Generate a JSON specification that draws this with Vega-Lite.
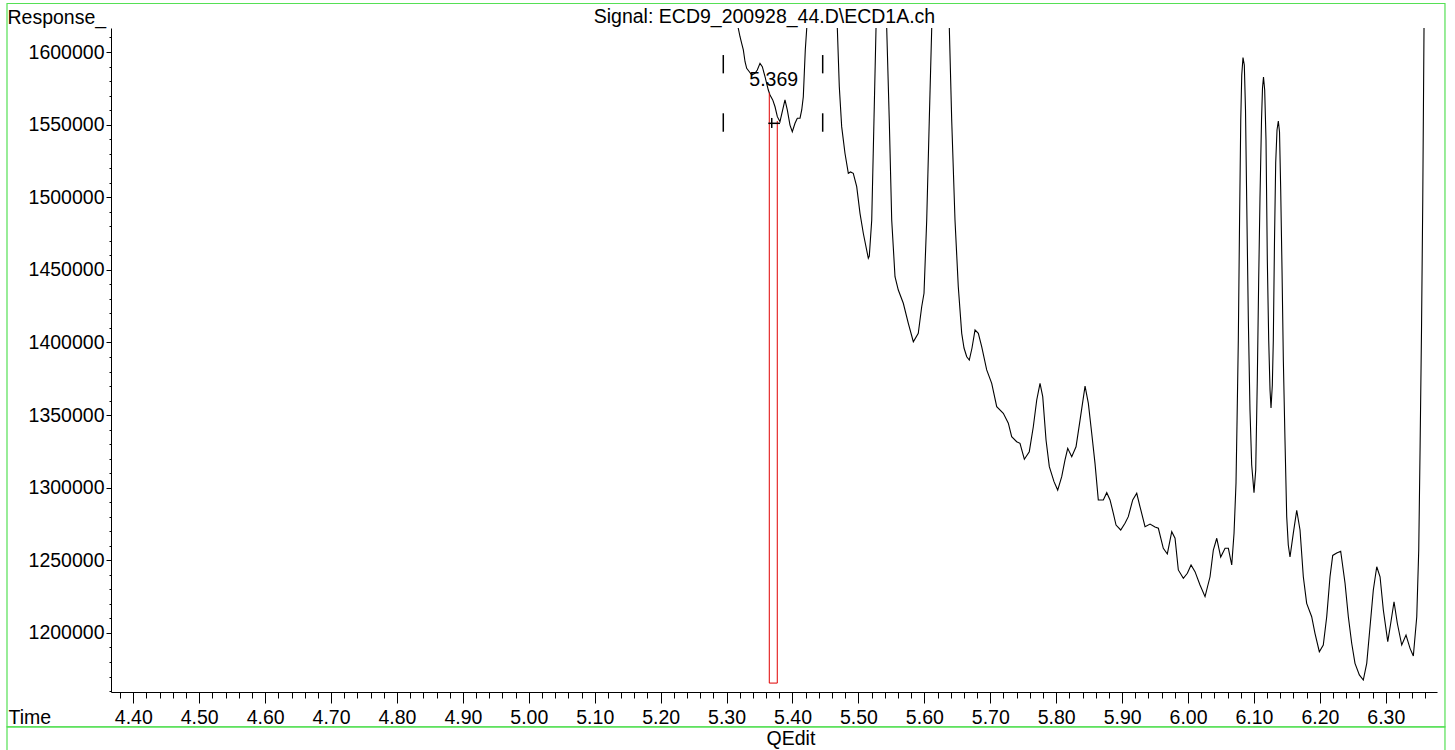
{
  "$schema": "https://vega.github.io/schema/vega-lite/v6.json",
  "width": 1326,
  "height": 664,
  "autosize": {"type": "none"},
  "padding": {"left": 111, "top": 28, "right": 18, "bottom": 58},
  "background": "white",
  "config": {
    "view": {"stroke": null},
    "font": "Liberation Sans",
    "text": {"font": "Liberation Sans", "fontSize": 19.5, "color": "black"}
  },
  "datasets": {
    "signal": [
      {"t": 5.2597, "r": 1700000},
      {"t": 5.3178, "r": 1616300},
      {"t": 5.3204, "r": 1610500},
      {"t": 5.3229, "r": 1606000},
      {"t": 5.3254, "r": 1601400},
      {"t": 5.3280, "r": 1593300},
      {"t": 5.3305, "r": 1588800},
      {"t": 5.3345, "r": 1586400},
      {"t": 5.3381, "r": 1584200},
      {"t": 5.3431, "r": 1585300},
      {"t": 5.3466, "r": 1587600},
      {"t": 5.3507, "r": 1592200},
      {"t": 5.3542, "r": 1589900},
      {"t": 5.3583, "r": 1583000},
      {"t": 5.3633, "r": 1573800},
      {"t": 5.3659, "r": 1570400},
      {"t": 5.3700, "r": 1567000},
      {"t": 5.3735, "r": 1562300},
      {"t": 5.3770, "r": 1555500},
      {"t": 5.3810, "r": 1552000},
      {"t": 5.3851, "r": 1560100},
      {"t": 5.3886, "r": 1567000},
      {"t": 5.3921, "r": 1560100},
      {"t": 5.3962, "r": 1549700},
      {"t": 5.3997, "r": 1545100},
      {"t": 5.4038, "r": 1550900},
      {"t": 5.4073, "r": 1554400},
      {"t": 5.4114, "r": 1554400},
      {"t": 5.4140, "r": 1560100},
      {"t": 5.4164, "r": 1569200},
      {"t": 5.4179, "r": 1585300},
      {"t": 5.4194, "r": 1601400},
      {"t": 5.4216, "r": 1616300},
      {"t": 5.4448, "r": 2000000},
      {"t": 5.4680, "r": 1616500},
      {"t": 5.4710, "r": 1576100},
      {"t": 5.4746, "r": 1548600},
      {"t": 5.4796, "r": 1530300},
      {"t": 5.4847, "r": 1516500},
      {"t": 5.4880, "r": 1517400},
      {"t": 5.4922, "r": 1516500},
      {"t": 5.4974, "r": 1507300},
      {"t": 5.5024, "r": 1488900},
      {"t": 5.5074, "r": 1475200},
      {"t": 5.5150, "r": 1458000},
      {"t": 5.5165, "r": 1459500},
      {"t": 5.5202, "r": 1484300},
      {"t": 5.5236, "r": 1553200},
      {"t": 5.5267, "r": 1616500},
      {"t": 5.5343, "r": 2300000},
      {"t": 5.5429, "r": 1616500},
      {"t": 5.5468, "r": 1553200},
      {"t": 5.5505, "r": 1484300},
      {"t": 5.5555, "r": 1445300},
      {"t": 5.5605, "r": 1436100},
      {"t": 5.5681, "r": 1427000},
      {"t": 5.5757, "r": 1413200},
      {"t": 5.5833, "r": 1400500},
      {"t": 5.5908, "r": 1406300},
      {"t": 5.5960, "r": 1424600},
      {"t": 5.5995, "r": 1433900},
      {"t": 5.6036, "r": 1484300},
      {"t": 5.6075, "r": 1553200},
      {"t": 5.6112, "r": 1616500},
      {"t": 5.6238, "r": 2300000},
      {"t": 5.6379, "r": 1616500},
      {"t": 5.6415, "r": 1553200},
      {"t": 5.6465, "r": 1484300},
      {"t": 5.6515, "r": 1438400},
      {"t": 5.6567, "r": 1406300},
      {"t": 5.6602, "r": 1396200},
      {"t": 5.6643, "r": 1390200},
      {"t": 5.6682, "r": 1387900},
      {"t": 5.6723, "r": 1396200},
      {"t": 5.6769, "r": 1408600},
      {"t": 5.6819, "r": 1406300},
      {"t": 5.6870, "r": 1397100},
      {"t": 5.6946, "r": 1381100},
      {"t": 5.7022, "r": 1371900},
      {"t": 5.7098, "r": 1355800},
      {"t": 5.7198, "r": 1351200},
      {"t": 5.7274, "r": 1344400},
      {"t": 5.7325, "r": 1335100},
      {"t": 5.7401, "r": 1331700},
      {"t": 5.7451, "r": 1330600},
      {"t": 5.7517, "r": 1319600},
      {"t": 5.7592, "r": 1324800},
      {"t": 5.7653, "r": 1342000},
      {"t": 5.7705, "r": 1360400},
      {"t": 5.7755, "r": 1371900},
      {"t": 5.7796, "r": 1362700},
      {"t": 5.7846, "r": 1332900},
      {"t": 5.7896, "r": 1314500},
      {"t": 5.7967, "r": 1304200},
      {"t": 5.8023, "r": 1298400},
      {"t": 5.8084, "r": 1307600},
      {"t": 5.8134, "r": 1319100},
      {"t": 5.8175, "r": 1327100},
      {"t": 5.8236, "r": 1321400},
      {"t": 5.8301, "r": 1328200},
      {"t": 5.8362, "r": 1346600},
      {"t": 5.8438, "r": 1370000},
      {"t": 5.8488, "r": 1358100},
      {"t": 5.8539, "r": 1337500},
      {"t": 5.8589, "r": 1316800},
      {"t": 5.8639, "r": 1291600},
      {"t": 5.8715, "r": 1291600},
      {"t": 5.8767, "r": 1296600},
      {"t": 5.8817, "r": 1291600},
      {"t": 5.8867, "r": 1282400},
      {"t": 5.8908, "r": 1274300},
      {"t": 5.8979, "r": 1270900},
      {"t": 5.9044, "r": 1275500},
      {"t": 5.9094, "r": 1280100},
      {"t": 5.9161, "r": 1291600},
      {"t": 5.9222, "r": 1296200},
      {"t": 5.9272, "r": 1286900},
      {"t": 5.9348, "r": 1273200},
      {"t": 5.9424, "r": 1275000},
      {"t": 5.9499, "r": 1273000},
      {"t": 5.9550, "r": 1272100},
      {"t": 5.9625, "r": 1258300},
      {"t": 5.9686, "r": 1254400},
      {"t": 5.9753, "r": 1269700},
      {"t": 5.9803, "r": 1265200},
      {"t": 5.9853, "r": 1243400},
      {"t": 5.9929, "r": 1237600},
      {"t": 5.9990, "r": 1241100},
      {"t": 6.0046, "r": 1246800},
      {"t": 6.0106, "r": 1242200},
      {"t": 6.0182, "r": 1233000},
      {"t": 6.0258, "r": 1225000},
      {"t": 6.0334, "r": 1238700},
      {"t": 6.0384, "r": 1257100},
      {"t": 6.0436, "r": 1265200},
      {"t": 6.0496, "r": 1252300},
      {"t": 6.0562, "r": 1258300},
      {"t": 6.0612, "r": 1258300},
      {"t": 6.0663, "r": 1246800},
      {"t": 6.0698, "r": 1268600},
      {"t": 6.0728, "r": 1303300},
      {"t": 6.0744, "r": 1346600},
      {"t": 6.0763, "r": 1401700},
      {"t": 6.0782, "r": 1484300},
      {"t": 6.0800, "r": 1553200},
      {"t": 6.0815, "r": 1584200},
      {"t": 6.0834, "r": 1596200},
      {"t": 6.0854, "r": 1591000},
      {"t": 6.0872, "r": 1560100},
      {"t": 6.0890, "r": 1498100},
      {"t": 6.0915, "r": 1415500},
      {"t": 6.0940, "r": 1353500},
      {"t": 6.0966, "r": 1315700},
      {"t": 6.1001, "r": 1296600},
      {"t": 6.1027, "r": 1312200},
      {"t": 6.1051, "r": 1374200},
      {"t": 6.1072, "r": 1443000},
      {"t": 6.1092, "r": 1500400},
      {"t": 6.1115, "r": 1553200},
      {"t": 6.1130, "r": 1575200},
      {"t": 6.1145, "r": 1582800},
      {"t": 6.1163, "r": 1573800},
      {"t": 6.1183, "r": 1539400},
      {"t": 6.1203, "r": 1456800},
      {"t": 6.1224, "r": 1401700},
      {"t": 6.1244, "r": 1367300},
      {"t": 6.1259, "r": 1354900},
      {"t": 6.1279, "r": 1370700},
      {"t": 6.1294, "r": 1401700},
      {"t": 6.1312, "r": 1470600},
      {"t": 6.1330, "r": 1523600},
      {"t": 6.1350, "r": 1546300},
      {"t": 6.1370, "r": 1552500},
      {"t": 6.1388, "r": 1544900},
      {"t": 6.1406, "r": 1505000},
      {"t": 6.1426, "r": 1449900},
      {"t": 6.1446, "r": 1387900},
      {"t": 6.1471, "r": 1332900},
      {"t": 6.1497, "r": 1280100},
      {"t": 6.1521, "r": 1260600},
      {"t": 6.1547, "r": 1252300},
      {"t": 6.1597, "r": 1268600},
      {"t": 6.1649, "r": 1284500},
      {"t": 6.1699, "r": 1270900},
      {"t": 6.1749, "r": 1238700},
      {"t": 6.1800, "r": 1220400},
      {"t": 6.1876, "r": 1211200},
      {"t": 6.1926, "r": 1199800},
      {"t": 6.1992, "r": 1187100},
      {"t": 6.2052, "r": 1191700},
      {"t": 6.2104, "r": 1211200},
      {"t": 6.2154, "r": 1238700},
      {"t": 6.2195, "r": 1253400},
      {"t": 6.2256, "r": 1255000},
      {"t": 6.2316, "r": 1256300},
      {"t": 6.2382, "r": 1234200},
      {"t": 6.2432, "r": 1211200},
      {"t": 6.2483, "r": 1192900},
      {"t": 6.2533, "r": 1179100},
      {"t": 6.2599, "r": 1171100},
      {"t": 6.2659, "r": 1167600},
      {"t": 6.2711, "r": 1179100},
      {"t": 6.2761, "r": 1204300},
      {"t": 6.2811, "r": 1229600},
      {"t": 6.2863, "r": 1245600},
      {"t": 6.2913, "r": 1238700},
      {"t": 6.2963, "r": 1215800},
      {"t": 6.3030, "r": 1194000},
      {"t": 6.3075, "r": 1206700},
      {"t": 6.3125, "r": 1221500},
      {"t": 6.3175, "r": 1206700},
      {"t": 6.3242, "r": 1191700},
      {"t": 6.3307, "r": 1198600},
      {"t": 6.3368, "r": 1189400},
      {"t": 6.3418, "r": 1184100},
      {"t": 6.3470, "r": 1211200},
      {"t": 6.3500, "r": 1257100},
      {"t": 6.3520, "r": 1326000},
      {"t": 6.3542, "r": 1408600},
      {"t": 6.3561, "r": 1498100},
      {"t": 6.3580, "r": 1616500},
      {"t": 6.3671, "r": 1900000}
    ],
    "windowMarks": [
      {"t": 5.2950, "t2": 5.2950, "r": 1597900, "r2": 1585300},
      {"t": 5.2950, "t2": 5.2950, "r": 1557800, "r2": 1545100},
      {"t": 5.4458, "t2": 5.4458, "r": 1597900, "r2": 1585300},
      {"t": 5.4458, "t2": 5.4458, "r": 1557800, "r2": 1545100},
      {"t": 5.3685, "t2": 5.3685, "r": 1554600, "r2": 1547700},
      {"t": 5.3633, "t2": 5.3810, "r": 1550900, "r2": 1550900}
    ],
    "peakArea": [
      {"t": 5.3648, "t2": 5.3648, "r": 1571800, "r2": 1165500},
      {"t": 5.3769, "t2": 5.3769, "r": 1552500, "r2": 1165500},
      {"t": 5.3648, "t2": 5.3769, "r": 1165500, "r2": 1165500}
    ],
    "panels": [
      {"t": 4.2084, "t2": 6.3898, "r": 1633400, "r2": 1135300},
      {"t": 4.2084, "t2": 6.3898, "r": 1135300, "r2": 1118000}
    ],
    "peakLabels": [
      {"t": 5.3345, "r": 1576600, "label": "5.369"}
    ]
  },
  "layer": [
    {
      "data": {"name": "signal"},
      "mark": {"type": "line", "clip": true, "color": "black", "strokeWidth": 1.1, "interpolate": "linear"},
      "encoding": {
        "x": {
          "field": "t",
          "type": "quantitative",
          "scale": {"domain": [4.366172, 6.3777], "nice": false, "zero": false},
          "axis": {
            "values": [4.38,4.4,4.42,4.44,4.46,4.48,4.5,4.52,4.54,4.56,4.58,4.6,4.62,4.64,4.66,4.68,4.7,4.72,4.74,4.76,4.78,4.8,4.82,4.84,4.86,4.88,4.9,4.92,4.94,4.96,4.98,5,5.02,5.04,5.06,5.08,5.1,5.12,5.14,5.16,5.18,5.2,5.22,5.24,5.26,5.28,5.3,5.32,5.34,5.36,5.38,5.4,5.42,5.44,5.46,5.48,5.5,5.52,5.54,5.56,5.58,5.6,5.62,5.64,5.66,5.68,5.7,5.72,5.74,5.76,5.78,5.8,5.82,5.84,5.86,5.88,5.9,5.92,5.94,5.96,5.98,6,6.02,6.04,6.06,6.08,6.1,6.12,6.14,6.16,6.18,6.2,6.22,6.24,6.26,6.28,6.3,6.32,6.34,6.36],
            "tickCount": 1000,
            "labelExpr": "round(datum.value * 100) % 10 == 0 ? format(datum.value, '.2f') : ''",
            "tickSize": {"condition": {"test": "round(datum.value * 100) % 10 == 0", "value": 11}, "value": 6},
            "tickColor": "black",
            "tickWidth": 1,
            "domainColor": "black",
            "domainWidth": 1,
            "grid": false,
            "labelFont": "Liberation Sans",
            "labelFontSize": 19.5,
            "labelColor": "black",
            "labelBaseline": "alphabetic",
            "labelPadding": 20,
            "labelOverlap": false,
            "labelBound": false,
            "labelFlush": false,
            "title": "Time",
            "titleFont": "Liberation Sans",
            "titleFontSize": 19.5,
            "titleFontWeight": "normal",
            "titleColor": "black",
            "titleAlign": "left",
            "titleBaseline": "alphabetic",
            "titleX": -103,
            "titleY": 31
          }
        },
        "y": {
          "field": "r",
          "type": "quantitative",
          "scale": {"domain": [1159360, 1616524], "nice": false, "zero": false},
          "axis": {
            "values": [1160000,1170000,1180000,1190000,1200000,1210000,1220000,1230000,1240000,1250000,1260000,1270000,1280000,1290000,1300000,1310000,1320000,1330000,1340000,1350000,1360000,1370000,1380000,1390000,1400000,1410000,1420000,1430000,1440000,1450000,1460000,1470000,1480000,1490000,1500000,1510000,1520000,1530000,1540000,1550000,1560000,1570000,1580000,1590000,1600000,1610000],
            "tickCount": 1000,
            "labelExpr": "datum.value % 50000 == 0 ? format(datum.value, 'd') : ''",
            "tickSize": {"condition": {"test": "datum.value % 50000 == 0", "value": 5}, "value": 2},
            "tickColor": "black",
            "tickWidth": 1,
            "domainColor": "black",
            "domainWidth": 1,
            "grid": false,
            "labelFont": "Liberation Sans",
            "labelFontSize": 19.5,
            "labelColor": "black",
            "labelBaseline": "middle",
            "labelPadding": 2,
            "labelOverlap": false,
            "labelBound": false,
            "labelFlush": false,
            "title": "Response_",
            "titleFont": "Liberation Sans",
            "titleFontSize": 19.5,
            "titleFontWeight": "normal",
            "titleColor": "black",
            "titleAngle": 0,
            "titleAlign": "left",
            "titleBaseline": "alphabetic",
            "titleX": -104,
            "titleY": -5
          }
        }
      }
    },
    {
      "data": {"name": "panels"},
      "mark": {"type": "rect", "fill": null, "fillOpacity": 0, "stroke": "#55e055", "strokeWidth": 1.2, "clip": false},
      "encoding": {
        "x": {"field": "t", "type": "quantitative"},
        "x2": {"field": "t2"},
        "y": {"field": "r", "type": "quantitative"},
        "y2": {"field": "r2"}
      }
    },
    {
      "data": {"name": "peakArea"},
      "mark": {"type": "rule", "color": "#e00000", "strokeWidth": 1},
      "encoding": {
        "x": {"field": "t", "type": "quantitative"},
        "x2": {"field": "t2"},
        "y": {"field": "r", "type": "quantitative"},
        "y2": {"field": "r2"}
      }
    },
    {
      "data": {"name": "windowMarks"},
      "mark": {"type": "rule", "color": "black", "strokeWidth": 1.5},
      "encoding": {
        "x": {"field": "t", "type": "quantitative"},
        "x2": {"field": "t2"},
        "y": {"field": "r", "type": "quantitative"},
        "y2": {"field": "r2"}
      }
    },
    {
      "data": {"name": "peakLabels"},
      "mark": {"type": "text", "align": "left", "baseline": "alphabetic", "fontSize": 19.5, "color": "black"},
      "encoding": {
        "x": {"field": "t", "type": "quantitative"},
        "y": {"field": "r", "type": "quantitative"},
        "text": {"field": "label"}
      }
    },
    {
      "data": {"values": [{}]},
      "mark": {"type": "text", "align": "center", "baseline": "alphabetic", "fontSize": 19.5, "color": "black"},
      "encoding": {
        "x": {"datum": 5.3575, "type": "quantitative"},
        "y": {"datum": 1619900, "type": "quantitative"},
        "text": {"value": "Signal: ECD9_200928_44.D\\ECD1A.ch"}
      }
    },
    {
      "data": {"values": [{}]},
      "mark": {"type": "text", "align": "center", "baseline": "alphabetic", "fontSize": 19.5, "color": "black"},
      "encoding": {
        "x": {"datum": 5.3977, "type": "quantitative"},
        "y": {"datum": 1122900, "type": "quantitative"},
        "text": {"value": "QEdit"}
      }
    }
  ]
}
